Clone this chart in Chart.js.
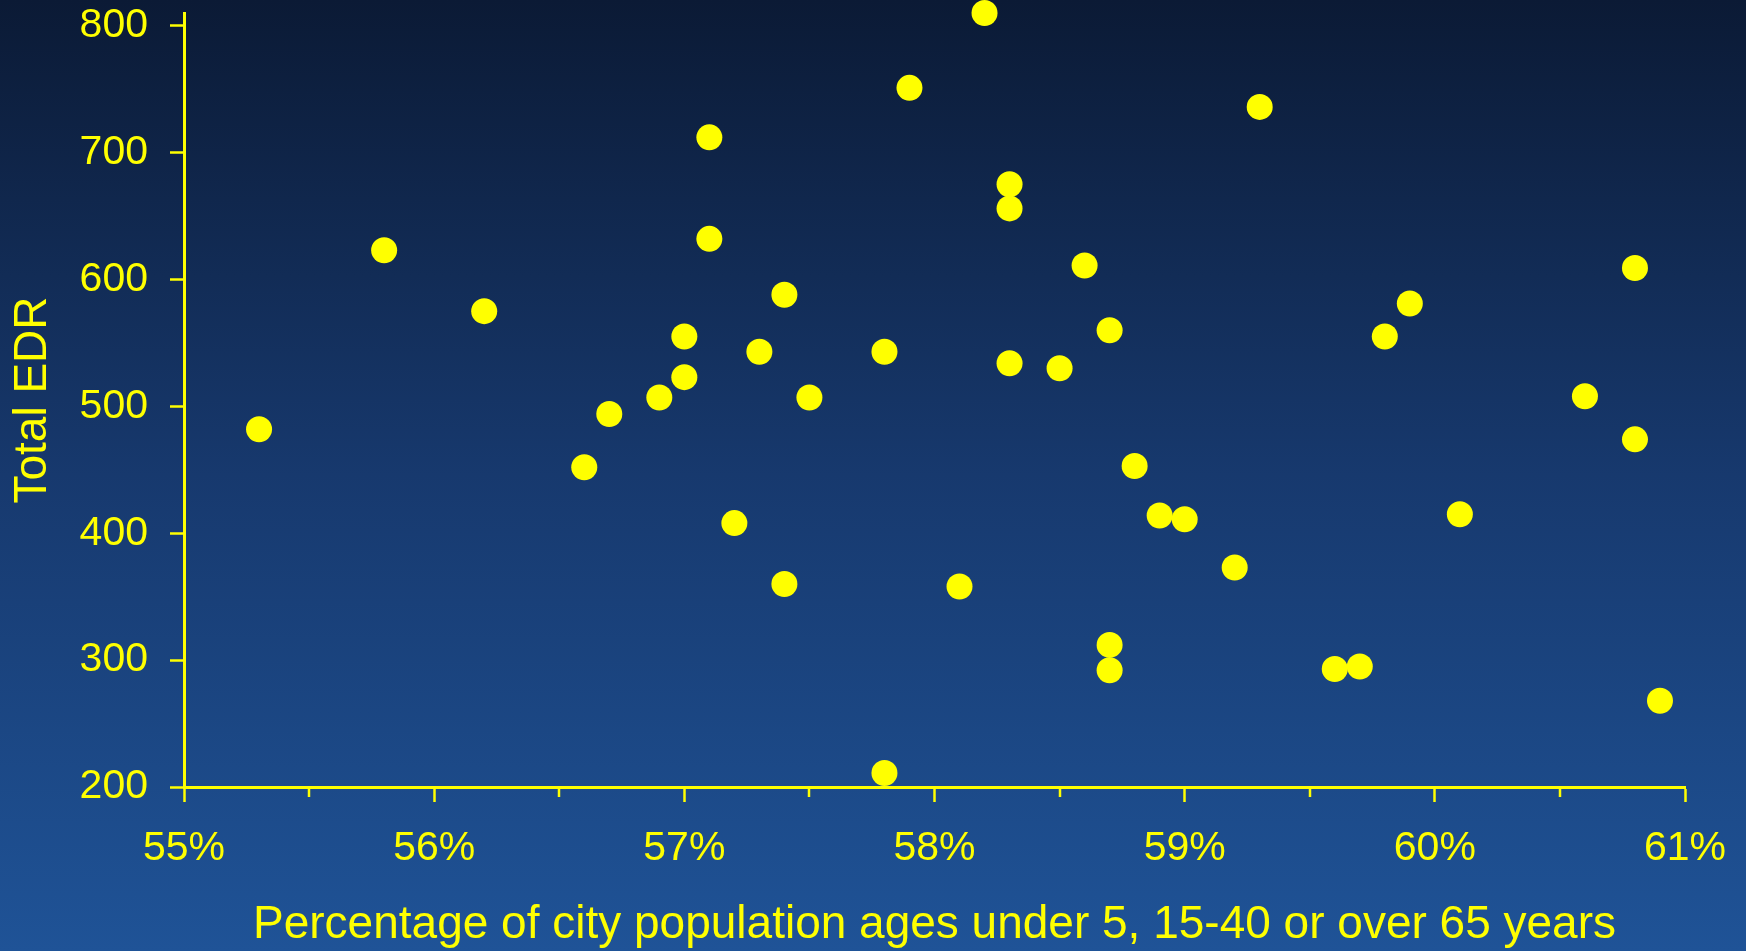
<!DOCTYPE html>
<html>
<head>
<meta charset="utf-8">
<script src="https://cdn.jsdelivr.net/npm/chart.js@4.4.1/dist/chart.umd.min.js"></script>
<style>
html, body { margin: 0; padding: 0; background: #17396e; }
canvas { display: block; }
</style>
</head>
<body>
<canvas id="myChart" width="1746" height="951"></canvas>
<script>
// x = % of city population under 5, 15-40 or over 65, y = total EDR
let pctPop = [55.3, 55.8, 56.2, 56.6, 56.7, 56.9, 57.0, 57.0, 57.1, 57.1,
	57.2, 57.3, 57.4, 57.4, 57.5, 57.8, 57.8, 57.9, 58.1, 58.2,
	58.3, 58.3, 58.3, 58.5, 58.6, 58.7, 58.7, 58.7, 58.8, 58.9,
	59.0, 59.2, 59.3, 59.6, 59.7, 59.8, 59.9, 60.1, 60.6, 60.8,
	60.8, 60.9];
let totalEdr = [482, 623, 575, 452, 494, 507, 555, 523, 712, 632,
	408, 543, 588, 360, 507, 543, 211, 751, 358, 810,
	675, 656, 534, 530, 611, 560, 312, 292, 453, 414,
	411, 373, 736, 293, 295, 555, 581, 415, 508, 609,
	474, 268];
// axis ticks
let xTicks = [55, 56, 57, 58, 59, 60, 61];
let xMinorTicks = [55.5, 56.5, 57.5, 58.5, 59.5, 60.5];
let yTicks = [200, 300, 400, 500, 600, 700, 800];

let yellow = "#ffff00";
let fontName = "'Liberation Sans', Arial, sans-serif";

let points = pctPop.map((x, i) => ({ x: x, y: totalEdr[i] }));

// blue gradient behind everything
let bgPlugin = {
	id: "bg",
	beforeDraw(chart) {
		let c = chart.ctx;
		let g = c.createLinearGradient(0, 0, 0, chart.height);
		g.addColorStop(0, "#0b1a35");
		g.addColorStop(0.5, "#17396e");
		g.addColorStop(1, "#1f5397");
		c.save();
		c.fillStyle = g;
		c.fillRect(0, 0, chart.width, chart.height);
		c.restore();
	},
};

// short ticks for the half percents
let minorTickPlugin = {
	id: "minorTicks",
	afterDraw(chart) {
		let sx = chart.scales.x;
		let c = chart.ctx;
		c.save();
		c.strokeStyle = yellow;
		c.lineWidth = 2.5;
		xMinorTicks.forEach((v) => {
			let px = Math.round(sx.getPixelForValue(v));
			c.beginPath();
			c.moveTo(px, sx.top);
			c.lineTo(px, sx.top + 10);
			c.stroke();
		});
		c.restore();
	},
};

let ctx = document.getElementById("myChart").getContext("2d");
let myChart = new Chart(ctx, {
	type: "scatter",
	data: {
		datasets: [
			{
				data: points,
				backgroundColor: yellow,
				borderWidth: 0,
				pointRadius: 13,
				pointHoverRadius: 13,
				clip: false,
			},
		],
	},
	options: {
		responsive: false,
		animation: false,
		devicePixelRatio: 1,
		layout: { padding: { top: 10, right: 61, left: 0, bottom: 0 } },
		plugins: { legend: { display: false }, tooltip: { enabled: false } },
		scales: {
			x: {
				type: "linear",
				min: 55,
				max: 61,
				afterBuildTicks(scale) {
					scale.ticks = xTicks.concat(xMinorTicks).sort((a, b) => a - b)
						.map((v) => ({ value: v }));
				},
				afterFit(scale) {
					scale.height = 164;
					scale.paddingLeft = 0;
					scale.paddingRight = 0;
				},
				border: { display: true, color: yellow, width: 3 },
				grid: {
					drawOnChartArea: false,
					drawTicks: true,
					tickLength: 15,
					tickWidth: 2.5,
					tickColor: (c) => (c.tick && xTicks.includes(c.tick.value) ? yellow : "rgba(0,0,0,0)"),
				},
				ticks: {
					color: yellow,
					padding: 22,
					maxRotation: 0,
					autoSkip: false,
					font: { family: fontName, size: 41 },
					callback: (v) => (xTicks.includes(v) ? v + "%" : ""),
				},
				title: {
					display: true,
					text: "Percentage of city population ages under 5, 15-40 or over 65 years",
					color: yellow,
					font: { family: fontName, size: 46, lineHeight: 1 },
					padding: { top: 0, bottom: 3 },
				},
			},
			y: {
				type: "linear",
				min: 200,
				max: 810,
				afterBuildTicks(scale) {
					scale.ticks = yTicks.map((v) => ({ value: v }));
				},
				afterFit(scale) {
					scale.width = 184;
					scale.paddingTop = 0;
					scale.paddingBottom = 0;
				},
				border: { display: true, color: yellow, width: 3 },
				grid: {
					drawOnChartArea: false,
					drawTicks: true,
					tickLength: 14,
					tickWidth: 2.5,
					tickColor: yellow,
				},
				ticks: {
					color: yellow,
					padding: 22,
					font: { family: fontName, size: 41 },
				},
				title: {
					display: true,
					text: "Total EDR",
					color: yellow,
					font: { family: fontName, size: 46, lineHeight: 1 },
					padding: { top: 10, bottom: 0 },
				},
			},
		},
	},
	plugins: [bgPlugin, minorTickPlugin],
});
</script>
</body>
</html>
